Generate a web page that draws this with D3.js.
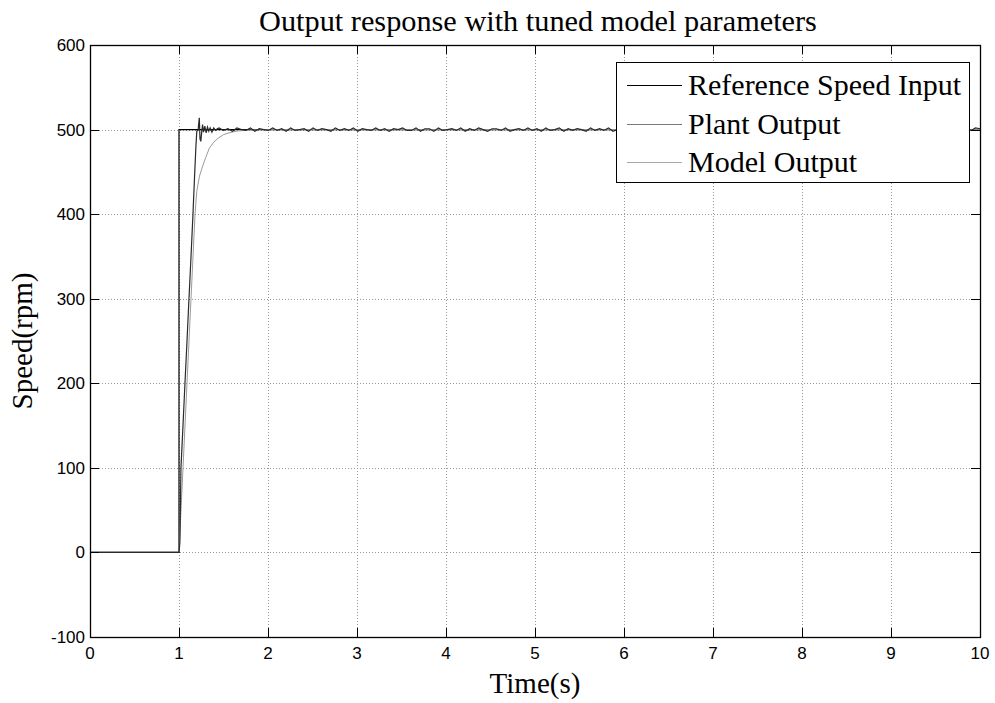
<!DOCTYPE html>
<html>
<head>
<meta charset="utf-8">
<script src="https://cdn.jsdelivr.net/npm/d3@7"></script>
<style>
  html, body { margin: 0; padding: 0; background: #fff; }
  svg { display: block; }
</style>
</head>
<body>
<svg id="chart" width="995" height="703"></svg>
<script>
// ---------- data ----------
const xTicks = [0, 1, 2, 3, 4, 5, 6, 7, 8, 9, 10];
const yTicks = [-100, 0, 100, 200, 300, 400, 500, 600];

const seriesNames = ["Reference Speed Input", "Plant Output", "Model Output"];

const refTime  = [0, 1, 1, 10];
const refSpeed = [0, 0, 500, 500];

// transient part of the plant output
const plantTime  = [0, 1.0, 1.01, 1.022, 1.045, 1.067, 1.09, 1.112, 1.135, 1.157, 1.175, 1.19, 1.2, 1.215, 1.228, 1.236, 1.245, 1.255, 1.265, 1.275, 1.29, 1.305, 1.32, 1.335, 1.35, 1.37, 1.39, 1.41, 1.43];
const plantSpeed = [0, 0, 12, 100, 150, 200, 250, 300, 350, 400, 445, 480, 498, 500, 514, 489, 486, 497, 506, 497, 504, 496, 503, 498, 502, 497, 502, 499, 501];
// steady-state ripple of the plant output (rpm around 500), from t=1.45 to t=10
const plantRipple = [2,-1,1,-2,2,0,-1,2,-2,1,0,-1,2,-1,1,-2,2,-1,0,1,-2,2,-1,1,0,-2,2,-1,1,-1,2,-2,1,0,-1,2,-1,1,-2,1,0,2,-1,-1,2,-2,1,1,-2,2,-1,0,1,-1,2,-2,1,-1,2,0,-2,1,1,-1,2,-2,0,1,-1,2,-1,1,-2,2,-1,0,2,-2,1,-1,1,0,-2,2,-1,1,-1,2,-2,0,1,-1,2,-1,1,-2,1,1,-1,2,-2,1,0,-1,2,-1,1,-2,2,0,-1,1,-2,2,-1,1,0,-1,2,-2,1,-1,2,0,-2,1,1,-1,2,-2,1,-1,0,2,-1,1,-2,2,-1,0,1,-2,2,-1,1,-1,2,-2,0,1,-1,2,-1,1,-2,2,0,-1,1,-2,2,-1,1,0,-1,2,-2,1,-1,2,1];
const rippleStart = 1.45, rippleEnd = 10;

const modelTime  = [0, 1.0, 1.045, 1.09, 1.135, 1.18, 1.2, 1.23, 1.273, 1.3, 1.341, 1.39, 1.442, 1.5, 1.573, 1.667, 1.8, 2.0, 10];
const modelSpeed = [0, 0, 100, 200, 300, 400, 427, 445, 459, 467, 478, 485, 490, 494, 496.5, 498.5, 499.5, 500, 500];

// ---------- layout ----------
const svg = d3.select("#chart");
const L = 90, R = 980, T = 45, B = 637;
const x = d3.scaleLinear().domain([0, 10]).range([L, R]);
const y = d3.scaleLinear().domain([-100, 600]).range([B, T]);

// grid
const grid = svg.append("g").attr("stroke", "#999").attr("stroke-width", 1).attr("stroke-dasharray", "1,2");
xTicks.slice(1, -1).forEach(t => grid.append("line")
  .attr("x1", Math.round(x(t)) + 0.5).attr("x2", Math.round(x(t)) + 0.5).attr("y1", T).attr("y2", B));
yTicks.slice(1, -1).forEach(v => grid.append("line")
  .attr("y1", Math.round(y(v)) + 0.5).attr("y2", Math.round(y(v)) + 0.5).attr("x1", L).attr("x2", R));

// lines
const line = d3.line().x(d => x(d[0])).y(d => y(d[1]));
const refData = refTime.map((t, i) => [t, refSpeed[i]]);
const plantData = plantTime.map((t, i) => [t, plantSpeed[i]]);
const rStep = (rippleEnd - rippleStart) / (plantRipple.length - 1);
plantRipple.forEach((r, i) => plantData.push([rippleStart + i * rStep, 500 + r]));
const modelData = modelTime.map((t, i) => [t, modelSpeed[i]]);

const plot = svg.append("g").attr("fill", "none");
plot.append("path").datum(refData).attr("d", line).attr("stroke", "#000").attr("stroke-width", 1.2);
plot.append("path").datum(modelData).attr("d", line).attr("stroke", "#9a9a9a").attr("stroke-width", 1);
plot.append("path").datum(plantData).attr("d", line).attr("stroke", "#2a2a2a").attr("stroke-width", 1.2);

// box and ticks
svg.append("rect").attr("x", L + 0.5).attr("y", T + 0.5).attr("width", R - L).attr("height", B - T)
  .attr("fill", "none").attr("stroke", "#000").attr("stroke-width", 1.3);
const tk = svg.append("g").attr("stroke", "#000").attr("stroke-width", 1);
const tl = 9;
xTicks.forEach(t => {
  const px = Math.round(x(t)) + 0.5;
  tk.append("line").attr("x1", px).attr("x2", px).attr("y1", B).attr("y2", B - tl);
  tk.append("line").attr("x1", px).attr("x2", px).attr("y1", T).attr("y2", T + tl);
});
yTicks.forEach(v => {
  const py = Math.round(y(v)) + 0.5;
  tk.append("line").attr("y1", py).attr("y2", py).attr("x1", L).attr("x2", L + tl);
  tk.append("line").attr("y1", py).attr("y2", py).attr("x1", R).attr("x2", R - tl);
});

// tick labels
const tickFont = "'Liberation Sans', Arial, sans-serif";
svg.append("g").selectAll("text").data(xTicks).join("text")
  .attr("x", d => x(d)).attr("y", B + 22)
  .attr("text-anchor", "middle").attr("font-family", tickFont).attr("font-size", 17)
  .text(d => d);
svg.append("g").selectAll("text").data(yTicks).join("text")
  .attr("x", L - 5).attr("y", d => y(d) + 6)
  .attr("text-anchor", "end").attr("font-family", tickFont).attr("font-size", 17)
  .text(d => d);

// titles
const serif = "'Liberation Serif', 'Times New Roman', serif";
svg.append("text").attr("x", (L + R) / 2 + 3).attr("y", 31).attr("text-anchor", "middle")
  .attr("font-family", serif).attr("font-size", 30.3).text("Output response with tuned model parameters");
svg.append("text").attr("x", (L + R) / 2).attr("y", 693).attr("text-anchor", "middle")
  .attr("font-family", serif).attr("font-size", 29).text("Time(s)");
svg.append("text").attr("transform", `translate(32,${(T + B) / 2}) rotate(-90)`).attr("text-anchor", "middle")
  .attr("font-family", serif).attr("font-size", 29).text("Speed(rpm)");

// legend
const lg = svg.append("g");
lg.append("rect").attr("x", 616.5).attr("y", 62.5).attr("width", 353).attr("height", 120)
  .attr("fill", "#fff").attr("stroke", "#000").attr("stroke-width", 1);
const legColors = ["#000", "#7a7a7a", "#a8a8a8"];
const legY = [85, 124, 162];
seriesNames.forEach((name, i) => {
  lg.append("line").attr("x1", 627).attr("x2", 682).attr("y1", legY[i] + 0.5).attr("y2", legY[i] + 0.5)
    .attr("stroke", legColors[i]).attr("stroke-width", 1);
  lg.append("text").attr("x", 688).attr("y", legY[i] + 10).attr("font-family", serif).attr("font-size", 30)
    .text(name);
});
</script>
</body>
</html>
